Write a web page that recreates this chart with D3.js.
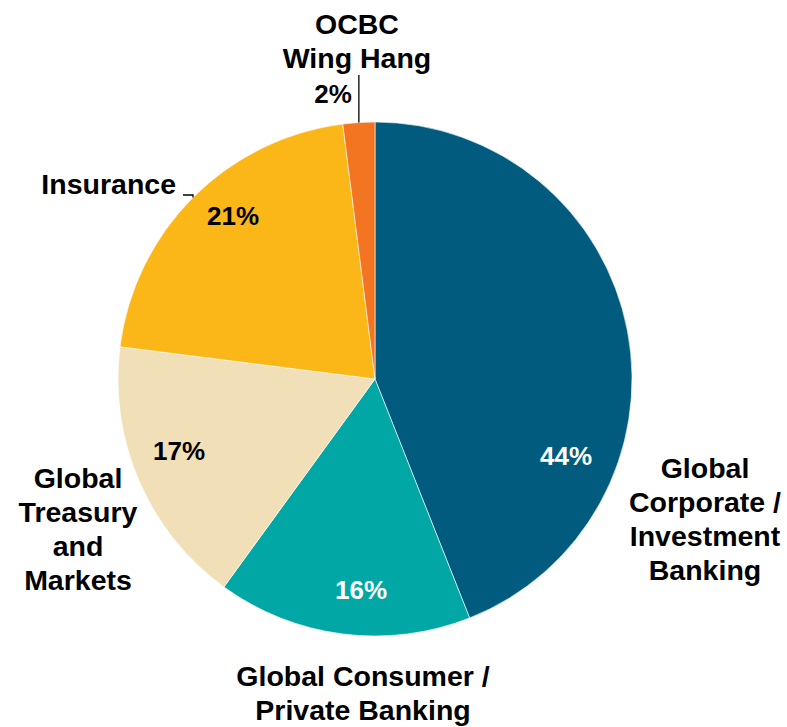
<!DOCTYPE html>
<html>
<head>
<meta charset="utf-8">
<script src="https://cdn.jsdelivr.net/npm/d3@7"></script>
<style>
  body { margin: 0; background: #fff; }
  text { font-family: "Liberation Sans", Arial, sans-serif; font-weight: bold; }
</style>
</head>
<body>
<script>
// segment shares, clockwise from 12 o'clock
var segments = ["Global Corporate / Investment Banking", "Global Consumer / Private Banking",
                "Global Treasury and Markets", "Insurance", "OCBC Wing Hang"];
var shares = [44, 16, 17, 21, 2];
var colors = ["#005b7e", "#00a7a5", "#f1dfb7", "#fbb617", "#f37521"];
var labelLines = [["Global", "Corporate /", "Investment", "Banking"],
                  ["Global Consumer /", "Private Banking"],
                  ["Global", "Treasury", "and", "Markets"],
                  ["Insurance"],
                  ["OCBC", "Wing Hang"]];
var pctColors = ["#fff", "#fff", "#000", "#000", "#000"];

// label layout (text only): [x, first baseline, anchor]
var nameLayout = [[705, 478, "middle"], [363, 686, "middle"], [78, 488, "middle"],
                  [176, 194, "end"], [357, 34, "middle"]];
var pctLayout = [[566, 465], [361, 599], [179, 460], [233, 225], [333, 103]];

var width = 787, height = 727,
    cx = 375, cy = 379, radius = 257,
    lineH = 34;

var svg = d3.select("body").append("svg")
    .attr("width", width)
    .attr("height", height);

var pie = d3.pie().sort(null).value(function(d){ return d; });
var arc = d3.arc().innerRadius(0).outerRadius(radius);
var arcs = pie(shares);

var g = svg.append("g").attr("transform", "translate(" + cx + "," + cy + ")");

g.selectAll(".slice")
    .data(arcs)
    .enter()
    .append("path")
    .attr("class", "slice")
    .attr("d", arc)
    .style("fill", function(d, i){ return colors[i]; })
    .style("stroke", "#fff")
    .style("stroke-width", 0.6);

// percentage labels
svg.selectAll(".pct")
    .data(arcs)
    .enter()
    .append("text")
    .attr("class", "pct")
    .attr("x", function(d, i){ return pctLayout[i][0]; })
    .attr("y", function(d, i){ return pctLayout[i][1]; })
    .attr("text-anchor", "middle")
    .style("font-size", "26px")
    .style("fill", function(d, i){ return pctColors[i]; })
    .text(function(d, i){ return shares[i] + "%"; });

// segment names
labelLines.forEach(function(lines, i){
    var t = svg.append("text")
        .attr("text-anchor", nameLayout[i][2])
        .style("font-size", "28.5px")
        .style("fill", "#000");
    lines.forEach(function(line, j){
        t.append("tspan")
            .attr("x", nameLayout[i][0])
            .attr("y", nameLayout[i][1] + j * lineH)
            .text(line);
    });
});

// leader lines, ending on the pie edge at each slice's mid angle
function edge(i){
    var a = (arcs[i].startAngle + arcs[i].endAngle) / 2;
    return [cx + radius * Math.sin(a), cy - radius * Math.cos(a)];
}
var ocbc = edge(4);
svg.append("line")
    .attr("x1", ocbc[0]).attr("y1", 75)
    .attr("x2", ocbc[0]).attr("y2", ocbc[1])
    .style("stroke", "#000").style("stroke-width", 1.3);

var insAngle = arcs[3].startAngle + (arcs[3].endAngle - arcs[3].startAngle) * 0.62;
var insX = 193, insY = cy - Math.sqrt(radius * radius - (insX - cx) * (insX - cx));
svg.append("path")
    .attr("d", "M183,195 L" + insX + ",195 L" + insX + "," + insY)
    .style("fill", "none").style("stroke", "#000").style("stroke-width", 1.3);
</script>
</body>
</html>
